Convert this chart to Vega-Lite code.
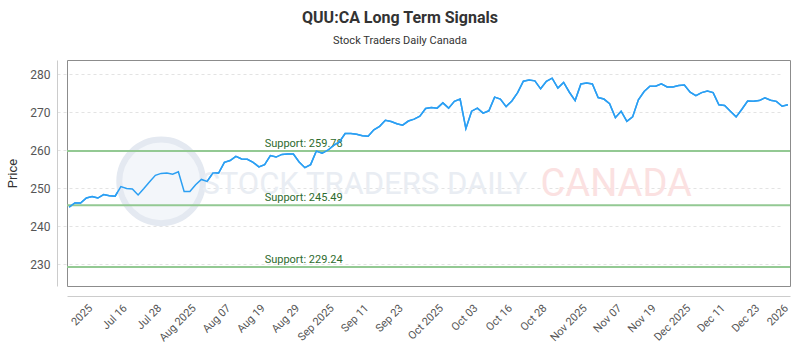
{
  "$schema": "https://vega.github.io/schema/vega-lite/v6.json",
  "width": 723,
  "height": 226,
  "autosize": {"type": "none"},
  "padding": {"left": 67, "top": 60, "right": 10, "bottom": 64},
  "background": "white",
  "config": {
    "view": {"stroke": "#8c8c8c", "strokeWidth": 1},
    "font": "Roboto",
    "axisX": {"offset": 10, "domainColor": "#cccccc", "ticks": false, "grid": false, "labelAngle": -45, "labelFontSize": 11, "labelColor": "#555555", "labelPadding": 6},
    "axisY": {"offset": 10, "domainColor": "#cccccc", "ticks": false, "labelPadding": 7, "labelFontSize": 12, "labelColor": "#555555", "grid": true, "gridColor": "#e3e3e3", "gridDash": [3, 3], "titleFontSize": 13, "titleFontWeight": "normal", "titleColor": "#333333", "titlePadding": 10}
  },
  "title": {
    "text": "QUU:CA Long Term Signals",
    "subtitle": "Stock Traders Daily Canada",
    "anchor": "middle",
    "dx": -28.5,
    "fontSize": 16,
    "fontWeight": "bold",
    "color": "#333333",
    "subtitleFontSize": 11,
    "subtitleColor": "#333333",
    "subtitlePadding": 9,
    "offset": 14
  },
  "datasets": {
    "prices": [
      {"date": "2025-07-02", "close": 245.0}, {"date": "2025-07-03", "close": 246.1}, {"date": "2025-07-04", "close": 246.1},
      {"date": "2025-07-07", "close": 247.4}, {"date": "2025-07-08", "close": 247.8}, {"date": "2025-07-09", "close": 247.4},
      {"date": "2025-07-10", "close": 248.3}, {"date": "2025-07-11", "close": 248.0}, {"date": "2025-07-14", "close": 247.9},
      {"date": "2025-07-15", "close": 250.4}, {"date": "2025-07-16", "close": 249.9}, {"date": "2025-07-17", "close": 249.8},
      {"date": "2025-07-18", "close": 248.2}, {"date": "2025-07-21", "close": 249.9}, {"date": "2025-07-22", "close": 251.7},
      {"date": "2025-07-23", "close": 253.4}, {"date": "2025-07-24", "close": 253.9}, {"date": "2025-07-25", "close": 254.0},
      {"date": "2025-07-28", "close": 253.7}, {"date": "2025-07-29", "close": 254.3}, {"date": "2025-07-30", "close": 249.1},
      {"date": "2025-07-31", "close": 249.1}, {"date": "2025-08-01", "close": 250.9}, {"date": "2025-08-05", "close": 252.3},
      {"date": "2025-08-06", "close": 251.8}, {"date": "2025-08-07", "close": 254.0}, {"date": "2025-08-08", "close": 254.0},
      {"date": "2025-08-11", "close": 256.8}, {"date": "2025-08-12", "close": 257.3}, {"date": "2025-08-13", "close": 258.4},
      {"date": "2025-08-14", "close": 257.7}, {"date": "2025-08-15", "close": 257.6}, {"date": "2025-08-18", "close": 256.8},
      {"date": "2025-08-19", "close": 255.6}, {"date": "2025-08-20", "close": 256.2}, {"date": "2025-08-21", "close": 258.6},
      {"date": "2025-08-22", "close": 258.2}, {"date": "2025-08-25", "close": 258.9}, {"date": "2025-08-26", "close": 259.0},
      {"date": "2025-08-27", "close": 259.0}, {"date": "2025-08-28", "close": 256.9}, {"date": "2025-08-29", "close": 255.4},
      {"date": "2025-09-02", "close": 256.2}, {"date": "2025-09-03", "close": 259.8}, {"date": "2025-09-04", "close": 259.2},
      {"date": "2025-09-05", "close": 260.0}, {"date": "2025-09-08", "close": 261.3}, {"date": "2025-09-09", "close": 262.2},
      {"date": "2025-09-10", "close": 264.4}, {"date": "2025-09-11", "close": 264.4}, {"date": "2025-09-12", "close": 264.2},
      {"date": "2025-09-15", "close": 263.8}, {"date": "2025-09-16", "close": 263.7}, {"date": "2025-09-17", "close": 265.4},
      {"date": "2025-09-18", "close": 266.3}, {"date": "2025-09-19", "close": 267.9}, {"date": "2025-09-22", "close": 267.6},
      {"date": "2025-09-23", "close": 267.0}, {"date": "2025-09-24", "close": 266.6}, {"date": "2025-09-25", "close": 267.7},
      {"date": "2025-09-26", "close": 268.2}, {"date": "2025-09-29", "close": 269.0}, {"date": "2025-09-30", "close": 271.0},
      {"date": "2025-10-01", "close": 271.3}, {"date": "2025-10-02", "close": 271.1}, {"date": "2025-10-03", "close": 272.5},
      {"date": "2025-10-06", "close": 271.1}, {"date": "2025-10-07", "close": 272.9}, {"date": "2025-10-08", "close": 273.5},
      {"date": "2025-10-09", "close": 265.7}, {"date": "2025-10-10", "close": 270.3}, {"date": "2025-10-14", "close": 271.1},
      {"date": "2025-10-15", "close": 269.8}, {"date": "2025-10-16", "close": 270.4}, {"date": "2025-10-17", "close": 274.0},
      {"date": "2025-10-20", "close": 273.5}, {"date": "2025-10-21", "close": 271.5}, {"date": "2025-10-22", "close": 273.0},
      {"date": "2025-10-23", "close": 275.2}, {"date": "2025-10-24", "close": 278.2}, {"date": "2025-10-27", "close": 278.5},
      {"date": "2025-10-28", "close": 278.3}, {"date": "2025-10-29", "close": 276.2}, {"date": "2025-10-30", "close": 278.2},
      {"date": "2025-10-31", "close": 279.0}, {"date": "2025-11-03", "close": 276.4}, {"date": "2025-11-04", "close": 277.9},
      {"date": "2025-11-05", "close": 275.3}, {"date": "2025-11-06", "close": 273.1}, {"date": "2025-11-07", "close": 277.5},
      {"date": "2025-11-10", "close": 277.7}, {"date": "2025-11-11", "close": 277.5}, {"date": "2025-11-12", "close": 273.9},
      {"date": "2025-11-13", "close": 273.5}, {"date": "2025-11-14", "close": 272.3}, {"date": "2025-11-17", "close": 268.6},
      {"date": "2025-11-18", "close": 270.3}, {"date": "2025-11-19", "close": 267.6}, {"date": "2025-11-20", "close": 268.8},
      {"date": "2025-11-21", "close": 273.3}, {"date": "2025-11-24", "close": 275.5}, {"date": "2025-11-25", "close": 276.9},
      {"date": "2025-11-26", "close": 276.9}, {"date": "2025-11-27", "close": 277.5}, {"date": "2025-11-28", "close": 276.7},
      {"date": "2025-12-01", "close": 276.7}, {"date": "2025-12-02", "close": 277.1}, {"date": "2025-12-03", "close": 277.2},
      {"date": "2025-12-04", "close": 275.3}, {"date": "2025-12-05", "close": 274.4}, {"date": "2025-12-08", "close": 275.2},
      {"date": "2025-12-09", "close": 275.6}, {"date": "2025-12-10", "close": 275.2}, {"date": "2025-12-11", "close": 272.0},
      {"date": "2025-12-12", "close": 271.8}, {"date": "2025-12-15", "close": 270.3}, {"date": "2025-12-16", "close": 268.8},
      {"date": "2025-12-17", "close": 270.8}, {"date": "2025-12-18", "close": 273.0}, {"date": "2025-12-19", "close": 272.9},
      {"date": "2025-12-22", "close": 273.1}, {"date": "2025-12-23", "close": 273.8}, {"date": "2025-12-24", "close": 273.2},
      {"date": "2025-12-29", "close": 272.9}, {"date": "2025-12-30", "close": 271.6}, {"date": "2025-12-31", "close": 272.0}
    ],
    "supports": [
      {"level": 259.78, "label": "Support: 259.78"},
      {"level": 245.49, "label": "Support: 245.49"},
      {"level": 229.24, "label": "Support: 229.24"}
    ],
    "watermark": [
      {"part": "STOCK TRADERS DAILY"}
    ],
    "watermark2": [
      {"part": "CANADA"}
    ]
  },
  "layer": [
    {
      "data": {"name": "prices"},
      "mark": {"type": "line", "color": "#2b9ff3", "strokeWidth": 1.5},
      "encoding": {
        "x": {
          "field": "date", "type": "ordinal",
          "scale": {"type": "point", "padding": 0.37},
          "axis": {
            "title": null,
            "values": ["2025-07-07", "2025-07-15", "2025-07-23", "2025-07-31", "2025-08-11", "2025-08-19", "2025-08-27", "2025-09-05", "2025-09-15", "2025-09-23", "2025-10-02", "2025-10-10", "2025-10-21", "2025-10-29", "2025-11-07", "2025-11-17", "2025-11-25", "2025-12-03", "2025-12-11", "2025-12-19", "2025-12-30"],
            "labelExpr": "{'2025-07-07':'2025','2025-07-15':'Jul 16','2025-07-23':'Jul 28','2025-07-31':'Aug 2025','2025-08-11':'Aug 07','2025-08-19':'Aug 19','2025-08-27':'Aug 29','2025-09-05':'Sep 2025','2025-09-15':'Sep 11','2025-09-23':'Sep 23','2025-10-02':'Oct 2025','2025-10-10':'Oct 03','2025-10-21':'Oct 16','2025-10-29':'Oct 28','2025-11-07':'Nov 2025','2025-11-17':'Nov 07','2025-11-25':'Nov 19','2025-12-03':'Dec 2025','2025-12-11':'Dec 11','2025-12-19':'Dec 23','2025-12-30':'2026'}[datum.value]"
          }
        },
        "y": {
          "field": "close", "type": "quantitative",
          "scale": {"domain": [224.2, 283.8], "nice": false, "zero": false},
          "axis": {"title": "Price", "values": [230, 240, 250, 260, 270, 280]}
        }
      }
    },
    {
      "data": {"name": "watermark"},
      "mark": {"type": "point", "filled": true, "fill": "#f3f6fa", "stroke": "#e4e9f1", "strokeWidth": 6, "opacity": 1},
      "encoding": {
        "x": {"datum": "2025-07-24", "type": "ordinal", "scale": {"type": "point", "padding": 0.37}},
        "y": {"datum": 251.8, "type": "quantitative", "scale": {"domain": [224.2, 283.8], "nice": false, "zero": false}},
        "size": {"value": 7000}
      }
    },
    {
      "data": {"name": "watermark"},
      "mark": {"type": "text", "align": "left", "baseline": "middle", "fontSize": 31, "fill": "#e9edf3"},
      "encoding": {
        "x": {"datum": "2025-08-05", "type": "ordinal", "scale": {"type": "point", "padding": 0.37}},
        "y": {"datum": 250.8, "type": "quantitative", "scale": {"domain": [224.2, 283.8], "nice": false, "zero": false}},
        "text": {"field": "part"}
      }
    },
    {
      "data": {"name": "watermark2"},
      "mark": {"type": "text", "align": "left", "baseline": "middle", "fontSize": 38, "fill": "#fbe1e1"},
      "encoding": {
        "x": {"datum": "2025-10-29", "type": "ordinal", "scale": {"type": "point", "padding": 0.37}},
        "y": {"datum": 250.8, "type": "quantitative", "scale": {"domain": [224.2, 283.8], "nice": false, "zero": false}},
        "text": {"field": "part"}
      }
    },
    {
      "data": {"name": "supports"},
      "mark": {"type": "rule", "color": "#93c993", "strokeWidth": 2},
      "encoding": {
        "y": {"field": "level", "type": "quantitative", "scale": {"domain": [224.2, 283.8], "nice": false, "zero": false}}
      }
    },
    {
      "data": {"name": "supports"},
      "mark": {"type": "text", "align": "left", "baseline": "alphabetic", "dy": -4, "fontSize": 11, "color": "#2e6b2e"},
      "encoding": {
        "x": {"datum": "2025-08-20", "type": "ordinal", "scale": {"type": "point", "padding": 0.37}},
        "y": {"field": "level", "type": "quantitative", "scale": {"domain": [224.2, 283.8], "nice": false, "zero": false}},
        "text": {"field": "label"}
      }
    },
    {
      "data": {"name": "prices"},
      "mark": {"type": "line", "color": "#2b9ff3", "strokeWidth": 1.5},
      "encoding": {
        "x": {"field": "date", "type": "ordinal", "scale": {"type": "point", "padding": 0.37}},
        "y": {"field": "close", "type": "quantitative", "scale": {"domain": [224.2, 283.8], "nice": false, "zero": false}}
      }
    }
  ]
}
